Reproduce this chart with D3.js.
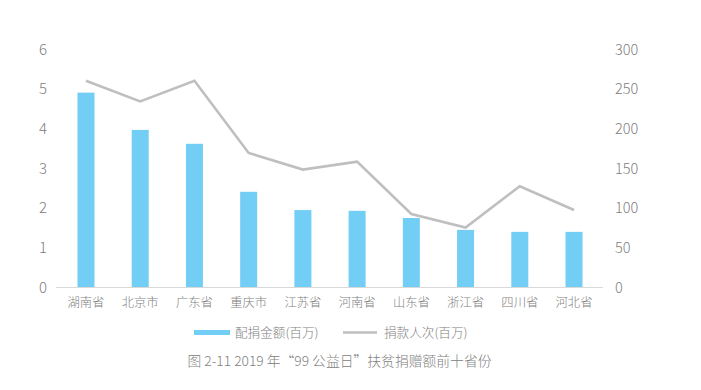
<!DOCTYPE html>
<html><head><meta charset="utf-8">
<script src="https://cdn.jsdelivr.net/npm/d3@7"></script>
<style>
html,body{margin:0;padding:0;background:#fff;}
svg text{font-family:"Noto Sans CJK SC","Noto Sans",sans-serif;font-weight:300;}
</style></head>
<body><svg id="c" width="701" height="390"></svg>
<script>
const categories = ["湖南省","北京市","广东省","重庆市","江苏省","河南省","山东省","浙江省","四川省","河北省"];
const matchAmount = [4.9, 3.96, 3.61, 2.4, 1.94, 1.92, 1.74, 1.44, 1.39, 1.39];
const donors = [260, 234, 260, 169, 148, 158, 92, 75, 127, 97];
const leftTicks = [0,1,2,3,4,5,6];
const rightTicks = [0,50,100,150,200,250,300];
const seriesNames = ["配捐金额(百万)","捐款人次(百万)"];
const title = "图 2-11 2019 年“99 公益日”扶贫捐赠额前十省份";

const svg = d3.select("#c");
const textColor = "#808080";
const x = d3.scaleBand().domain(categories).range([59, 601]).paddingInner(0.685).paddingOuter(0.34);
const yL = d3.scaleLinear().domain([0,6]).range([287, 49]);
const yR = d3.scaleLinear().domain([0,300]).range([287, 49]);

// bars
svg.append("g").selectAll("rect").data(categories).join("rect")
  .attr("x", d => x(d) + x.bandwidth()/2 - 8.5)
  .attr("width", 17)
  .attr("y", (d,i) => yL(matchAmount[i]))
  .attr("height", (d,i) => yL(0) - yL(matchAmount[i]))
  .attr("fill", "#72CEF5");

// baseline
svg.append("line").attr("x1",56).attr("x2",603).attr("y1",yL(0)+0.5).attr("y2",yL(0)+0.5)
  .attr("stroke","#d9d9d9").attr("stroke-width",1);

// line
const line = d3.line().x((d,i)=> x(categories[i]) + x.bandwidth()/2).y(d=>yR(d));
svg.append("path").datum(donors).attr("d", line).attr("fill","none")
  .attr("stroke","#bfbfbf").attr("stroke-width",2.6).attr("stroke-linejoin","miter");

// left axis
const axL = d3.axisLeft(yL).tickValues(leftTicks).tickFormat(d3.format("d")).tickSize(0).tickPadding(0);
const gL = svg.append("g").attr("transform","translate(47,0)").call(axL);
gL.select(".domain").remove();
gL.selectAll("text").attr("fill",textColor).style("font-size","15px").attr("dy","0.35em");

// right axis
const axR = d3.axisRight(yR).tickValues(rightTicks).tickFormat(d3.format("d")).tickSize(0).tickPadding(0);
const gR = svg.append("g").attr("transform","translate(615,0)").call(axR);
gR.select(".domain").remove();
gR.selectAll("text").attr("fill",textColor).style("font-size","14.5px").attr("dy","0.35em");

// x axis labels
const axX = d3.axisBottom(x).tickSize(0).tickPadding(0);
const gX = svg.append("g").attr("transform","translate(0,297)").call(axX);
gX.select(".domain").remove();
gX.selectAll("text").attr("fill",textColor).style("font-size","12.3px").attr("dy","0.35em").attr("y",6);

// legend
const lg = svg.append("g");
lg.append("rect").attr("x",194).attr("y",330).attr("width",36).attr("height",5).attr("fill","#72CEF5");
lg.append("text").attr("x",235).attr("y",332.5).attr("dy","0.35em").attr("fill",textColor)
  .style("font-size","12.6px").text(seriesNames[0]);
lg.append("line").attr("x1",343).attr("x2",377).attr("y1",332.5).attr("y2",332.5)
  .attr("stroke","#bfbfbf").attr("stroke-width",2.6);
lg.append("text").attr("x",384).attr("y",332.5).attr("dy","0.35em").attr("fill",textColor)
  .style("font-size","12.6px").text(seriesNames[1]);

// title
svg.append("text").attr("x",339.5).attr("y",361).attr("dy","0.35em").attr("text-anchor","middle")
  .attr("fill",textColor).style("font-size","13.8px").text(title);
</script></body></html>
